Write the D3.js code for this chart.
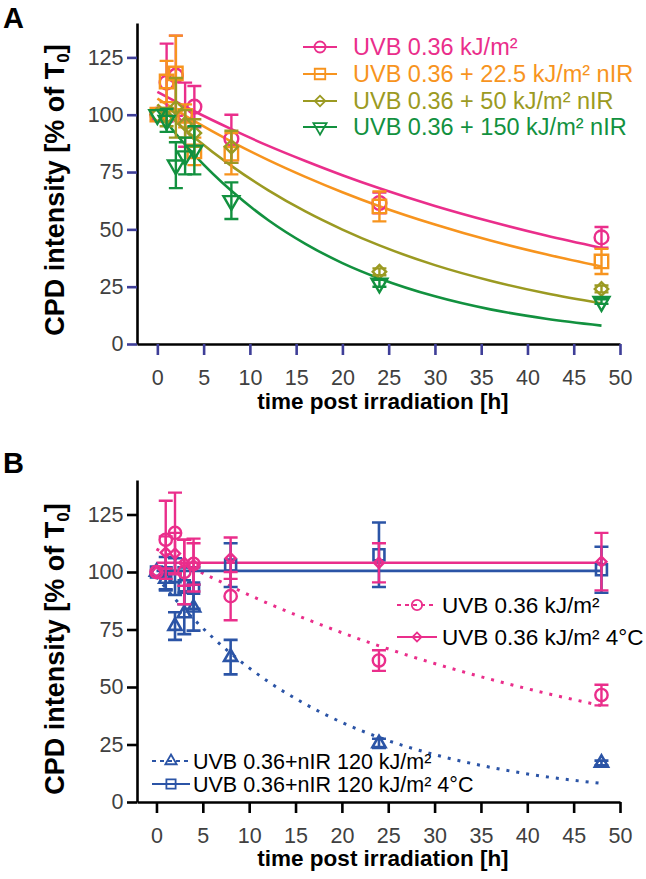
<!DOCTYPE html>
<html>
<head>
<meta charset="utf-8">
<script src="https://cdn.jsdelivr.net/npm/d3@7"></script>
<style>
  body { margin: 0; background: #fff; }
  text { font-family: "Liberation Sans", Arial, sans-serif; }
</style>
</head>
<body>
<script>
// sampling times [h]
var times = [0, 1, 2, 3, 4, 8, 24, 48]
var xTicks = [0, 5, 10, 15, 20, 25, 30, 35, 40, 45, 50]
var yTicks = [0, 25, 50, 75, 100, 125]

// panel A measurements (% of T0) and error bars
var uvb = [100, 114, 117, 100, 103.5, 89.5, 61.5, 46.5]
var uvbErr = [0, 17, 17.5, 14, 9, 10.5, 4.5, 4.5]
var nir22 = [100, 114.5, 118, 99.5, 84, 83, 60, 36]
var nir22Err = [0, 9, 16.5, 5, 6, 9, 6.5, 5.5]
var nir50 = [100, 99, 103, 96, 92, 86, 31.5, 24]
var nir50Err = [0, 4, 13, 6, 6, 7, 1.5, 1.5]
var nir150 = [100, 97.5, 78, 82, 84.5, 62.5, 26.5, 18.5]
var nir150Err = [0, 5, 10, 8, 10.5, 8, 1.5, 1]

// fitted decay curves
var fitTimes = [0, 2, 4, 8, 12, 16, 20, 24, 30, 36, 42, 48]
var uvbFit = [110, 105.7, 101.5, 93.7, 86.4, 79.8, 73.6, 67.9, 60.2, 53.4, 47.3, 41.9]
var nir22Fit = [107, 102, 97.2, 88.3, 80.2, 72.9, 66.2, 60.1, 52.1, 45.1, 39.1, 33.8]
var nir50Fit = [104.5, 97, 90.1, 77.7, 67, 57.8, 49.9, 43, 34.4, 27.6, 22.1, 17.7]
var nir150Fit = [102, 91.7, 82.5, 66.8, 54, 43.7, 35.3, 28.6, 20.8, 15.1, 11, 8]

// panel B measurements
var uvb4 = [100, 108.5, 108, 104, 103, 106, 104, 104.5]
var uvb4Err = [0, 7, 9, 10, 11.5, 9, 8.5, 12.5]
var nir120 = [100, 97, 76.5, 82, 84.5, 63, 25.5, 17]
var nir120Err = [0, 5, 6, 9, 10, 7.5, 2, 1]
var nir120c = [100, 99.5, 98, 94, 93, 103, 107.5, 101]
var nir120cErr = [0, 7, 8, 8, 9, 9.5, 14, 10]
var nir120Fit = [98, 88.3, 79.6, 64.7, 52.5, 42.7, 34.6, 28.1, 20.6, 15.1, 11, 8.1]
var levelTimes = [0, 48]
var uvb4Level = [104, 104]
var nir120cLevel = [100.5, 100.5]

var pink = '#ea2e8b', orange = '#f7941e', olive = '#9b9a22', green = '#12913f', blue = '#2b54a6'

var svg = d3.select('body').append('svg')
    .attr('width', 646)
    .attr('height', 879)

function zip(ts, vs, es) {
    return ts.map(function (t, i) { return { t: t, v: vs[i], e: es ? es[i] : 0 } })
}

function markerPath(shape, size) {
    if (shape == 'circle') return d3.symbol(d3.symbolCircle, size)()
    if (shape == 'square' || shape == 'diamond') return d3.symbol(d3.symbolSquare, size)()
    return d3.symbol(d3.symbolTriangle, size)()
}
function markerRot(shape) {
    if (shape == 'diamond') return ' rotate(45)'
    if (shape == 'down') return ' rotate(180)'
    return ''
}

function drawAxes(x, y, y0, tickColor) {
    var gx = svg.append('g')
        .attr('transform', 'translate(0,' + y0 + ')')
        .call(d3.axisBottom(x).tickValues(xTicks).tickSizeInner(11).tickSizeOuter(0).tickPadding(15))
    var gy = svg.append('g')
        .attr('transform', 'translate(' + x.range()[0] + ',0)')
        .call(d3.axisLeft(y).tickValues(yTicks).tickSizeInner(10).tickSizeOuter(0).tickPadding(3.5))
    ;[gx, gy].forEach(function (g) {
        g.select('.domain').attr('stroke', '#000').attr('stroke-width', 2.6)
        g.selectAll('.tick line').attr('stroke', tickColor).attr('stroke-width', 2.6)
        g.selectAll('.tick text').attr('fill', '#404040').style('font-size', '21.5px')
            .style('font-family', '"Liberation Sans", Arial, sans-serif')
    })
}

function drawCurve(x, y, ts, vs, color, dotted) {
    var line = d3.line()
        .x(function (d) { return x(d.t) })
        .y(function (d) { return y(d.v) })
        .curve(d3.curveMonotoneX)
    var p = svg.append('path')
        .datum(zip(ts, vs))
        .attr('d', line)
        .attr('fill', 'none')
        .attr('stroke', color)
        .attr('stroke-width', dotted ? 3 : 2.6)
    if (dotted) p.attr('stroke-dasharray', '3,7')
}

function drawPoints(x, y, vs, es, color, shape, size, sw) {
    var data = zip(times, vs, es)
    var g = svg.append('g').attr('stroke', color).attr('stroke-width', sw).attr('fill', 'none')
    var eb = data.filter(function (d) { return d.e > 0 })
    g.selectAll('.eb').data(eb).enter().append('path')
        .attr('d', function (d) {
            var cx = x(d.t), hi = y(d.v + d.e), lo = y(d.v - d.e)
            return 'M' + cx + ',' + hi + 'V' + lo +
                'M' + (cx - 7) + ',' + hi + 'H' + (cx + 7) +
                'M' + (cx - 7) + ',' + lo + 'H' + (cx + 7)
        })
    g.selectAll('.mk').data(data).enter().append('path')
        .attr('d', markerPath(shape, size))
        .attr('transform', function (d) {
            return 'translate(' + x(d.t) + ',' + y(d.v) + ')' + markerRot(shape)
        })
}

// legend entry: line of length len, marker in the middle, text at x0 + tx
function legendRow(x0, len, tx, yy, color, shape, size, label, textColor, dashed, fs) {
    var l = svg.append('line')
        .attr('x1', x0).attr('x2', x0 + len).attr('y1', yy).attr('y2', yy)
        .attr('stroke', color).attr('stroke-width', 1.8)
    if (dashed) l.attr('stroke-dasharray', '4,4')
    svg.append('path')
        .attr('d', markerPath(shape, size))
        .attr('transform', 'translate(' + (x0 + len / 2) + ',' + yy + ')' + markerRot(shape))
        .attr('fill', 'none').attr('stroke', color).attr('stroke-width', 1.8)
    svg.append('text')
        .attr('x', x0 + tx).attr('y', yy).attr('dy', '0.36em')
        .attr('fill', textColor)
        .style('font-size', fs + 'px')
        .text(label)
}

function yTitle(cx, cy) {
    var t = svg.append('text')
        .attr('transform', 'translate(' + cx + ',' + cy + ') rotate(-90)')
        .attr('text-anchor', 'middle')
        .style('font-size', '27px').style('font-weight', 'bold')
    t.append('tspan').text('CPD intensity [% of T')
    t.append('tspan').attr('baseline-shift', '-28%').style('font-size', '17px').text('0')
    t.append('tspan').text(']')
}

function xTitle(cx, yy) {
    svg.append('text')
        .attr('x', cx).attr('y', yy)
        .attr('text-anchor', 'middle')
        .style('font-size', '22.5px').style('font-weight', 'bold')
        .text('time post irradiation [h]')
}

// ---------- panel A ----------
var xA = d3.scaleLinear().domain([-2.2, 50]).range([137, 620])
var yA = d3.scaleLinear().domain([0, 140]).range([344, 23])

drawAxes(xA, yA, 344, '#3e3e98')

drawCurve(xA, yA, fitTimes, uvbFit, pink)
drawCurve(xA, yA, fitTimes, nir22Fit, orange)
drawCurve(xA, yA, fitTimes, nir50Fit, olive)
drawCurve(xA, yA, fitTimes, nir150Fit, green)

drawPoints(xA, yA, uvb, uvbErr, pink, 'circle', 150, 2.4)
drawPoints(xA, yA, nir22, nir22Err, orange, 'square', 180, 2.4)
drawPoints(xA, yA, nir50, nir50Err, olive, 'diamond', 90, 2.4)
drawPoints(xA, yA, nir150, nir150Err, green, 'down', 110, 2.4)

legendRow(303, 34, 50, 47, pink, 'circle', 95, 'UVB 0.36 kJ/m²', pink, false, 23.5)
legendRow(303, 34, 50, 74, orange, 'square', 110, 'UVB 0.36 + 22.5 kJ/m² nIR', orange, false, 23.5)
legendRow(303, 34, 50, 101, olive, 'diamond', 55, 'UVB 0.36 + 50 kJ/m² nIR', olive, false, 23.5)
legendRow(303, 34, 50, 127, green, 'down', 75, 'UVB 0.36 + 150 kJ/m² nIR', green, false, 23.5)

yTitle(64, 190)
xTitle(383, 409)

svg.append('text').attr('x', 3).attr('y', 28)
    .style('font-size', '29px').style('font-weight', 'bold').text('A')

// ---------- panel B ----------
var xB = d3.scaleLinear().domain([-2.1, 50]).range([137, 620])
var yB = d3.scaleLinear().domain([0, 140]).range([802, 480])

drawAxes(xB, yB, 802, '#000')

drawCurve(xB, yB, fitTimes, uvbFit, pink, true)
drawCurve(xB, yB, fitTimes, nir120Fit, blue, true)
drawCurve(xB, yB, levelTimes, nir120cLevel, blue)
drawCurve(xB, yB, levelTimes, uvb4Level, pink)

drawPoints(xB, yB, nir120c, nir120cErr, blue, 'square', 120, 2.6)
drawPoints(xB, yB, nir120, nir120Err, blue, 'up', 75, 2.6)
drawPoints(xB, yB, uvb, uvbErr, pink, 'circle', 120, 2.4)
drawPoints(xB, yB, uvb4, uvb4Err, pink, 'diamond', 50, 2.4)

legendRow(397, 40, 45, 605, pink, 'circle', 85, 'UVB 0.36 kJ/m²', '#000', true, 22.5)
legendRow(397, 40, 45, 637, pink, 'diamond', 40, 'UVB 0.36 kJ/m² 4°C', '#000', false, 22.5)
legendRow(152, 38, 41, 761, blue, 'up', 55, 'UVB 0.36+nIR 120 kJ/m²', '#000', true, 21.5)
legendRow(152, 38, 41, 784, blue, 'square', 85, 'UVB 0.36+nIR 120 kJ/m² 4°C', '#000', false, 21.5)

yTitle(64, 649)
xTitle(383, 866)

svg.append('text').attr('x', 3).attr('y', 473)
    .style('font-size', '29px').style('font-weight', 'bold').text('B')
</script>
</body>
</html>
